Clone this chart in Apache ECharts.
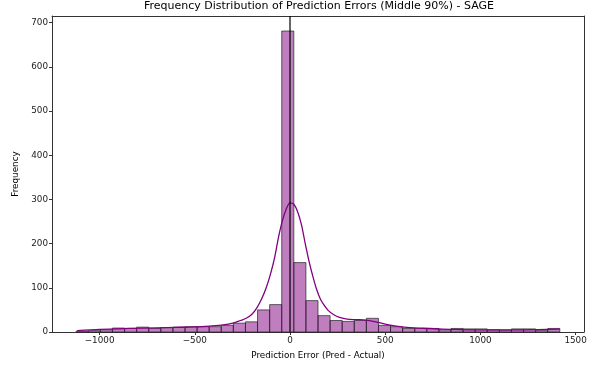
<!DOCTYPE html>
<html>
<head>
<meta charset="utf-8">
<script src="https://cdn.jsdelivr.net/npm/echarts@6/dist/echarts.min.js"></script>
<style>html,body{margin:0;padding:0;background:#fff}#c{width:600px;height:365px}</style>
</head>
<body>
<div id="c"></div>
<script>
// Histogram bin edges (prediction error) and counts
const binEdges = [-1123,-1059.5,-996,-932.5,-869,-805.5,-742,-678.5,-615,-551.5,-488,-424.5,-361,-297.5,-234,-170.5,-107,-43.5,20,83.5,147,210.5,274,337.5,401,464.5,528,591.5,655,718.5,782,845.5,909,972.5,1036,1099.5,1163,1226.5,1290,1353.5,1417];
const binCounts = [2,3,5,9,8,11,8,10,11,12,12,12,15,20,23,50,62,681,157,71,37,26,24,26,31,15,12,8,8,8,5,8,7,7,5,4,7,7,4,8];
// KDE curve (scaled to counts)
const kdeX = [-1118,-1000,-850,-700,-600,-500,-420,-350,-300,-260,-230,-200,-175,-150,-125,-100,-80,-60,-40,-20,0,20,40,60,80,100,120,140,160,180,200,230,260,300,350,400,450,500,550,600,700,800,900,1000,1100,1200,1300,1417];
const kdeY = [3,6,8,9.5,10.5,11.5,13.5,16,20,26,31,40,54,74,100,135,170,215,252,278,292,289,272,243,200,160,126,96,74,60,49,39,33,29,28,27,23,18,14,11,8.5,6.5,5.5,5,5,5,5.5,6.5];
const xTicks = [-1000,-500,0,500,1000,1500];
const yTicks = [0,100,200,300,400,500,600,700];
const xRange = [-1250, 1544];
const yRange = [0, 715];
const zeroLine = [0];

const histData = binCounts.map((c, i) => [binEdges[i], binEdges[i+1], c]);
const kdeData = kdeX.map((x, i) => [x, kdeY[i]]);

const chart = echarts.init(document.getElementById('c'), null, {renderer: 'canvas'});
const font = 'DejaVu Sans';
const spine = {color: '#333', width: 1};
chart.setOption({
  animation: false,
  title: {
    text: 'Frequency Distribution of Prediction Errors (Middle 90%) - SAGE',
    left: 318, top: 0, padding: 1, textAlign: 'center',
    textStyle: {fontFamily: font, fontSize: 11, fontWeight: 'normal', color: '#000'}
  },
  grid: {left: 52, right: 16, top: 16, bottom: 32},
  xAxis: [{
    type: 'value', min: xRange[0], max: xRange[1],
    name: 'Prediction Error (Pred - Actual)', nameLocation: 'middle', nameGap: 19,
    nameTextStyle: {fontFamily: font, fontSize: 8.8, color: '#000'},
    splitLine: {show: false},
    axisLine: {show: true, onZero: false, lineStyle: spine},
    axisTick: {show: true, length: 3, lineStyle: {color: '#333'}, customValues: xTicks},
    axisLabel: {fontFamily: font, fontSize: 8.8, color: '#222', margin: 4, customValues: xTicks,
      formatter: v => (v < 0 ? '\u2212' + Math.abs(v) : String(v))}
  }, {
    type: 'value', position: 'top', min: xRange[0], max: xRange[1],
    splitLine: {show: false}, axisTick: {show: false}, axisLabel: {show: false},
    axisLine: {show: true, onZero: false, lineStyle: spine}
  }],
  yAxis: [{
    type: 'value', min: yRange[0], max: yRange[1],
    name: 'Frequency', nameLocation: 'middle', nameGap: 31, nameRotate: 90,
    nameTextStyle: {fontFamily: font, fontSize: 8.8, color: '#000'},
    splitLine: {show: false},
    axisLine: {show: true, onZero: false, lineStyle: spine},
    axisTick: {show: true, length: 3, lineStyle: {color: '#333'}, customValues: yTicks},
    axisLabel: {fontFamily: font, fontSize: 8.8, color: '#222', margin: 4, customValues: yTicks}
  }, {
    type: 'value', position: 'right', min: yRange[0], max: yRange[1],
    splitLine: {show: false}, axisTick: {show: false}, axisLabel: {show: false},
    axisLine: {show: true, onZero: false, lineStyle: spine}
  }],
  series: [
    {
      type: 'custom',
      data: histData,
      encode: {x: [0, 1], y: 2},
      renderItem: function (params, api) {
        const p0 = api.coord([api.value(0), api.value(2)]);
        const p1 = api.coord([api.value(1), 0]);
        return {
          type: 'rect',
          shape: {x: p0[0], y: p0[1], width: p1[0] - p0[0], height: p1[1] - p0[1]},
          style: {fill: 'rgba(128,0,128,0.5)', stroke: 'rgba(30,30,30,0.85)', lineWidth: 0.8}
        };
      },
      z: 2
    },
    {
      type: 'line', data: kdeData, smooth: 0.3, showSymbol: false,
      lineStyle: {color: '#800080', width: 1.3}, z: 3
    },
    {
      type: 'line', data: [[zeroLine[0], yRange[0]], [zeroLine[0], yRange[1]]], showSymbol: false,
      lineStyle: {color: '#000', width: 1.2}, z: 4
    }
  ]
});
</script>
</body>
</html>
